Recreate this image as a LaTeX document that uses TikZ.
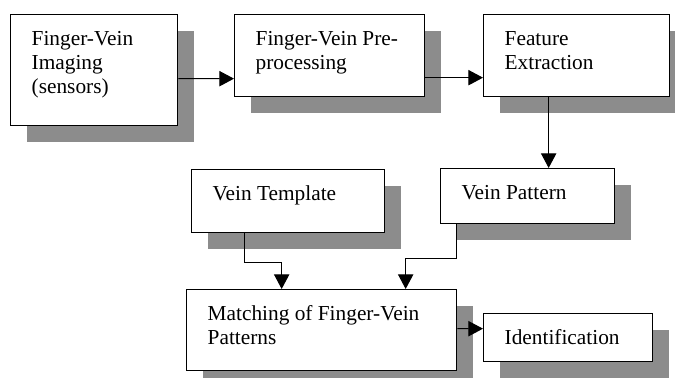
\documentclass[tikz,border=0pt]{standalone}
\usepackage{fontspec}
\setmainfont{Liberation Serif}
\usetikzlibrary{arrows.meta,shadows}
\tikzset{every shadow/.style={fill=black!45,opacity=1,shadow xshift=12pt,shadow yshift=-12pt}}
\tikzset{stagebox/.style={draw=black,line width=1pt,fill=white,drop shadow,
    anchor=north west,align=flush left,inner xsep=15.75pt,inner ysep=12pt,
    text height=11pt,font=\fontsize{16}{18}\selectfont}}
\tikzset{flow/.style={-{Triangle[length=11pt,width=11.5pt]},line width=0.8pt}}

\begin{document}
\begin{tikzpicture}[x=0.75pt,y=-0.75pt]
% \draw[help lines] (0,0) grid (675,378);
\useasboundingbox (0,0) rectangle (675,378);
\node (img) [stagebox,text width=93.75pt,text depth=48.25pt] at (10,14) {Finger-Vein\\Imaging\\(sensors)};
\node (pre) [stagebox,text width=111pt,text depth=26.5pt] at (234,14) {Finger-Vein Pre-\\processing};
\node (feat) [stagebox,text width=108pt,text depth=26.5pt] at (483,14) {Feature\\Extraction};
\node (tmpl) [stagebox,text width=113.25pt,text depth=12.25pt] at (191,169) {Vein Template};
\node (patt) [stagebox,text width=99pt,text depth=6.25pt] at (440,168) {Vein Pattern};
\node (match) [stagebox,text width=171pt,text depth=25.75pt] at (186,289) {Matching of Finger-Vein\\Patterns};
\node (ident) [stagebox,text width=95.25pt,text depth=1pt] at (483,313) {Identification};
%
\draw[flow] ([yshift=-6.4pt]img.east) -- ([yshift=-17.25pt]pre.west);
\draw[flow] ([yshift=-16.5pt]pre.east) -- ([yshift=-16.5pt]feat.west);
\draw[flow] ([xshift=-21pt]feat.south) -- ([xshift=15.75pt]patt.north);
\draw[flow] ([xshift=-32.6pt]tmpl.south) -- ++(0,29) -| ([xshift=-30pt]match.north);
\draw[flow] ([xshift=-53.25pt]patt.south) -- ++(0,34) -| ([xshift=63pt]match.north);
\draw[flow] ([yshift=1.1pt]match.east) -- ([yshift=6.75pt]ident.west);
\end{tikzpicture}
\end{document}
